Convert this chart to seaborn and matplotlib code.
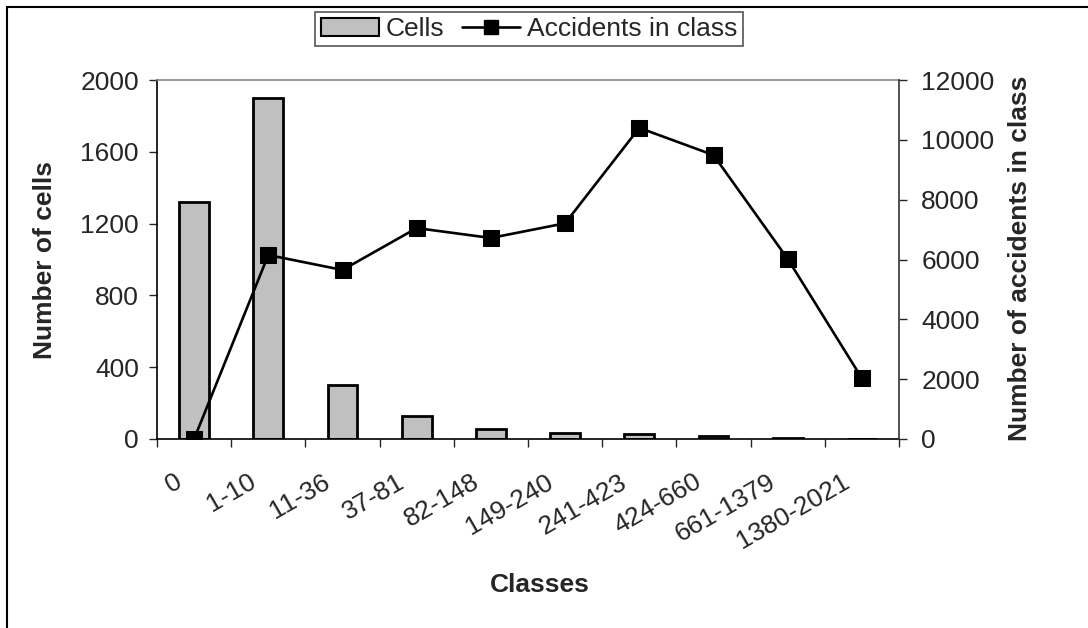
import numpy as np
import matplotlib
matplotlib.use("Agg")
import matplotlib.pyplot as plt
import matplotlib.transforms as mtrans
from matplotlib.patches import Rectangle, Patch
from matplotlib.lines import Line2D
import seaborn as sns

classes = ['0', '1-10', '11-36', '37-81', '82-148', '149-240',
           '241-423', '424-660', '661-1379', '1380-2021']
cells = [1322, 1901, 300, 128, 56, 36, 28, 17, 6, 1]
accidents = [0, 6150, 5650, 7050, 6720, 7210, 10400, 9490, 6020, 2030]

sns.set_style('ticks')
plt.rcParams['font.family'] = ['Liberation Sans', 'DejaVu Sans']

fig = plt.figure(figsize=(10.88, 6.28), dpi=100)
ax = fig.add_axes([157/1088, 1-439/628, (899-157)/1088, (439-80)/628])
ax2 = ax.twinx()

# bars: cells per class
sns.barplot(x=classes, y=cells, ax=ax, color='#c0c0c0', saturation=1,
            edgecolor='black', linewidth=2, width=0.4)
# line: accidents per class
sns.lineplot(x=np.arange(len(classes)), y=accidents, ax=ax2, color='black',
             marker='s', markersize=11, markeredgecolor='black', linewidth=1.9)

ax.set_xlim(-0.5, len(classes) - 0.5)
ax.set_ylim(0, 2000)
ax.set_yticks(range(0, 2001, 400))
ax2.set_ylim(0, 12000)
ax2.set_yticks(range(0, 12001, 2000))

# ticks at category boundaries, labels at centres
ax.set_xticks(np.arange(len(classes) + 1) - 0.5)
ax.set_xticklabels([])
ax.set_xticks(np.arange(len(classes)), minor=True)
ax.set_xticklabels(classes, minor=True, rotation=30, ha='right', va='top',
                   rotation_mode='anchor', fontsize=19)
ax.tick_params(axis='x', which='minor', length=0)
ax.tick_params(axis='x', which='major', length=6, width=1, direction='out')
off = mtrans.ScaledTranslation(-0.20, -0.26, fig.dpi_scale_trans)
for lab in ax.get_xticklabels(minor=True):
    lab.set_transform(lab.get_transform() + off)

ax.tick_params(axis='y', length=6, width=1, pad=7, labelsize=19)
ax2.tick_params(axis='y', length=6, width=1, pad=10, labelsize=19)

for s in ['left', 'bottom']:
    ax.spines[s].set_linewidth(1.2)
    ax.spines[s].set_color('black')
ax.spines['right'].set_visible(False)
ax.spines['top'].set_visible(True)
ax.spines['top'].set_color('#888888')
ax.spines['top'].set_linewidth(1.2)
for s in ['left', 'bottom', 'top']:
    ax2.spines[s].set_visible(False)
ax2.spines['right'].set_visible(True)
ax2.spines['right'].set_color('#333333')
ax2.spines['right'].set_linewidth(1.2)

ax.set_xlabel('')
ax.set_ylabel('')
ax2.set_ylabel('')
fig.text(45/1088, 1-260/628, 'Number of cells', rotation=90, ha='center',
         va='center', fontsize=19, fontweight='bold')
fig.text(1020/1088, 1-258/628, 'Number of accidents in class', rotation=90,
         ha='center', va='center', fontsize=19, fontweight='bold')
fig.text(540/1088, 1-585/628, 'Classes', ha='center', va='center',
         fontsize=19, fontweight='bold')

handles = [Patch(facecolor='#c0c0c0', edgecolor='black', linewidth=1.5),
           Line2D([], [], color='black', marker='s', markersize=10, linewidth=1.9)]
leg = fig.legend(handles, ['Cells', 'Accidents in class'], ncol=2,
                 loc='center', bbox_to_anchor=(529/1088, 1-29/628),
                 fontsize=19, frameon=True, fancybox=False, framealpha=1,
                 edgecolor='#555555', handlelength=2.2, handletextpad=0.25,
                 columnspacing=0.7, borderpad=0.2)
leg.get_frame().set_linewidth(1.2)

# outer chart frame (cut off at right and bottom)
fig.add_artist(Rectangle((7/1088, -0.1), 1.5, 1.1 - 7/628, fill=False,
                         edgecolor='black', linewidth=1.5,
                         transform=fig.transFigure, clip_on=False))

fig.savefig('out.png', dpi=100)
